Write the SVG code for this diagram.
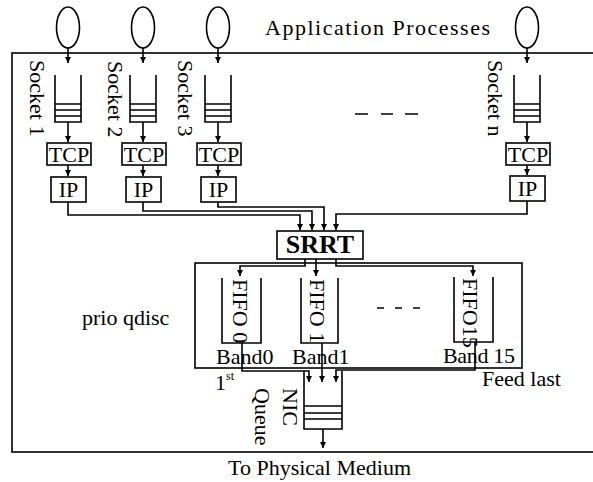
<svg xmlns="http://www.w3.org/2000/svg" width="593" height="482" viewBox="0 0 593 482">
<style>
text{font-family:"Liberation Serif","Times New Roman",serif;font-size:22px;fill:#000}
.ln{fill:none;stroke:#000;stroke-width:1.6}
.box{fill:#fff;stroke:#000;stroke-width:1.6}
.ar{fill:none;stroke:#000;stroke-width:1.6;marker-end:url(#ah)}
.c{text-anchor:middle}
</style>
<defs>
<marker id="ah" viewBox="0 0 6 6" refX="6" refY="3" markerWidth="6" markerHeight="6" markerUnits="userSpaceOnUse" orient="auto"><path d="M0,0 L6,3 L0,6 z" fill="#000"/></marker>
</defs>
<rect width="593" height="482" fill="#fff"/>
<g id="outer"><rect x="12" y="53" width="600" height="399" class="ln" stroke-width="2"/></g>
<text x="265" y="35" textLength="225" lengthAdjust="spacing">Application Processes</text>
<g id="apps">
<ellipse id="app1" cx="68" cy="27.5" rx="11.5" ry="20.5" class="ln"/>
<ellipse id="app2" cx="143" cy="27.5" rx="11.5" ry="20.5" class="ln"/>
<ellipse id="app3" cx="218" cy="27.5" rx="11.5" ry="20.5" class="ln"/>
<ellipse id="appn" cx="527" cy="27.5" rx="11.5" ry="20.5" class="ln"/>
</g>
<g id="socket1"><path class="ln" d="M55 75V122H81V75M55 104H81M55 110H81M55 116H81"/><text transform="translate(30,60) rotate(90)">Socket 1</text></g>
<g id="socket2"><path class="ln" d="M130 75V122H156V75M130 104H156M130 110H156M130 116H156"/><text transform="translate(108,61) rotate(90)">Socket 2</text></g>
<g id="socket3"><path class="ln" d="M205 75V122H231V75M205 104H231M205 110H231M205 116H231"/><text transform="translate(178,60) rotate(90)">Socket 3</text></g>
<g id="socketn"><path class="ln" d="M514 75V122H540V75M514 104H540M514 110H540M514 116H540"/><text transform="translate(488,60) rotate(90)">Socket n</text></g>
<path class="ln" d="M355 114H368M381 114H393M405 114H418"/>
<g id="tcp1"><rect x="47" y="143" width="44" height="22" class="box"/><text x="69" y="162" class="c">TCP</text></g>
<g id="tcp2"><rect x="122" y="143" width="44" height="22" class="box"/><text x="144" y="162" class="c">TCP</text></g>
<g id="tcp3"><rect x="197" y="143" width="44" height="22" class="box"/><text x="219" y="162" class="c">TCP</text></g>
<g id="tcpn"><rect x="506" y="143" width="44" height="22" class="box"/><text x="528" y="162" class="c">TCP</text></g>
<g id="ip1"><rect x="51" y="177" width="35" height="25" class="box"/><text x="68.5" y="197" class="c">IP</text></g>
<g id="ip2"><rect x="126" y="177" width="35" height="25" class="box"/><text x="143.5" y="197" class="c">IP</text></g>
<g id="ip3"><rect x="201" y="177" width="35" height="25" class="box"/><text x="218.5" y="197" class="c">IP</text></g>
<g id="ipn"><rect x="510" y="176" width="35" height="25" class="box"/><text x="527.5" y="196" class="c">IP</text></g>
<g id="srrt"><rect x="277" y="231" width="86" height="28" class="box"/><text x="320" y="253" class="c" style="font-weight:bold;font-size:26px">SRRT</text></g>
<g id="prio"><rect x="195" y="263" width="327" height="105" class="ln"/><text x="82" y="325">prio qdisc</text><path class="ln" d="M377 308H384M395 308H402M413 308H420"/></g>
<g id="fifo0"><path class="ln" d="M222 278V343H261V278"/><text transform="translate(233,279) rotate(90)">FIFO 0</text><text x="216" y="364">Band0</text></g>
<g id="fifo1"><path class="ln" d="M301 278V343H338V278"/><text transform="translate(310,279) rotate(90)">FIFO 1</text><text x="292" y="364">Band1</text></g>
<g id="fifo15"><path class="ln" d="M454 277V342H493V277"/><text transform="translate(463,278) rotate(90)">FIFO15</text><text x="443" y="363" textLength="72" lengthAdjust="spacing">Band 15</text></g>
<g id="nic"><path class="ln" d="M304 371V429H342V371M304 406H342M304 413H342M304 419H342"/><text transform="translate(283,388) rotate(90)">NIC</text><text transform="translate(255,388) rotate(90)">Queue</text></g>
<text x="215" y="390">1<tspan font-size="12" dy="-10">st</tspan></text>
<text x="482" y="386">Feed last</text>
<text x="228" y="475">To Physical Medium</text>
<g id="connectors">
<path class="ar" d="M68 48V63"/>
<path class="ar" d="M143 48V63"/>
<path class="ar" d="M218 48V63"/>
<path class="ar" d="M527 48V63"/>
<path class="ar" d="M68 122V142"/>
<path class="ar" d="M143 122V142"/>
<path class="ar" d="M218 122V142"/>
<path class="ar" d="M527 122V142"/>
<path class="ar" d="M68 165V176"/>
<path class="ar" d="M143 165V176"/>
<path class="ar" d="M218 165V176"/>
<path class="ar" d="M527 165V175"/>
<path class="ar" d="M68 202V215H300V230"/>
<path class="ar" d="M143 202V211H312V230"/>
<path class="ar" d="M218 202V207H324V230"/>
<path class="ar" d="M527 201V214H336V230"/>
<path class="ar" d="M305 259V266H240V276"/>
<path class="ar" d="M316 259V276"/>
<path class="ar" d="M336 259V266H473V276"/>
<path class="ar" d="M242 343V371H309V382"/>
<path class="ar" d="M322 343V382"/>
<path class="ar" d="M475 342V370H336V382"/>
<path class="ar" d="M323 429V448"/>
</g>
</svg>
